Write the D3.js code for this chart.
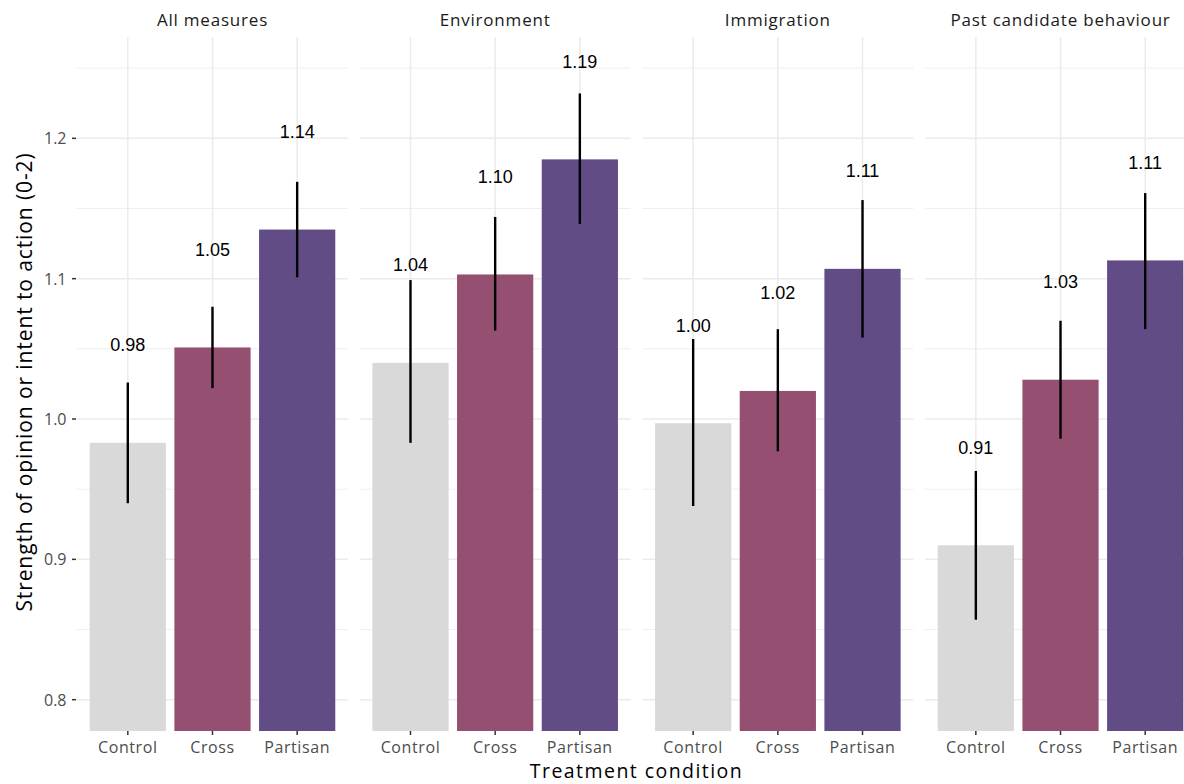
<!DOCTYPE html>
<html>
<head>
<meta charset="utf-8">
<script src="https://cdn.jsdelivr.net/npm/d3@7"></script>
<style>
  html, body { margin: 0; padding: 0; background: #fff; }
  svg { display: block; }
</style>
</head>
<body>
<svg id="chart" width="1184" height="784"></svg>
<script>
// ---- data ----
const facets = ["All measures", "Environment", "Immigration", "Past candidate behaviour"];
const conditions = ["Control", "Cross", "Partisan"];
const means = [
  [0.983, 1.051, 1.135],
  [1.040, 1.103, 1.185],
  [0.997, 1.020, 1.107],
  [0.910, 1.028, 1.113]
];
const lower = [
  [0.940, 1.022, 1.101],
  [0.983, 1.063, 1.139],
  [0.938, 0.977, 1.058],
  [0.857, 0.986, 1.064]
];
const upper = [
  [1.026, 1.080, 1.169],
  [1.099, 1.144, 1.232],
  [1.057, 1.064, 1.156],
  [0.963, 1.070, 1.161]
];
const labels = [
  ["0.98", "1.05", "1.14"],
  ["1.04", "1.10", "1.19"],
  ["1.00", "1.02", "1.11"],
  ["0.91", "1.03", "1.11"]
];
const yTicks = [0.8, 0.9, 1.0, 1.1, 1.2];
const yMinor = [0.85, 0.95, 1.05, 1.15, 1.25];
const colors = { Control: "#d9d9d9", Cross: "#944f71", Partisan: "#614c86" };

// ---- layout ----
const svg = d3.select("#chart");
const plotLeft = 77, plotRight = 1196, plotTop = 37, plotBottom = 731;
const gap = 11.7;
const panelW = (plotRight - plotLeft - gap * 3) / 4;
const sansUI = "'Open Sans', 'Noto Sans', sans-serif";

const y = d3.scaleLinear().domain([0.7777, 1.2722]).range([plotBottom, plotTop]);
const x = d3.scaleBand().domain(conditions).range([0, panelW]).paddingInner(0.1).paddingOuter(0.15);
const cx = d => x(d) + x.bandwidth() / 2;

facets.forEach((f, i) => {
  const x0 = plotLeft + i * (panelW + gap);
  const g = svg.append("g").attr("transform", `translate(${x0},0)`);

  g.selectAll("line.minor").data(yMinor).join("line").attr("class", "minor")
    .attr("x1", 0).attr("x2", panelW)
    .attr("y1", d => y(d)).attr("y2", d => y(d))
    .attr("stroke", "#ebebeb").attr("stroke-width", 0.8);
  g.selectAll("line.major").data(yTicks).join("line").attr("class", "major")
    .attr("x1", 0).attr("x2", panelW)
    .attr("y1", d => y(d)).attr("y2", d => y(d))
    .attr("stroke", "#ebebeb").attr("stroke-width", 1.5);
  g.selectAll("line.vmajor").data(conditions).join("line").attr("class", "vmajor")
    .attr("x1", cx).attr("x2", cx)
    .attr("y1", plotTop).attr("y2", plotBottom)
    .attr("stroke", "#ebebeb").attr("stroke-width", 1.5);

  g.selectAll("rect.bar").data(conditions).join("rect").attr("class", "bar")
    .attr("x", d => x(d)).attr("width", x.bandwidth())
    .attr("y", (d, j) => y(means[i][j]))
    .attr("height", (d, j) => plotBottom - y(means[i][j]))
    .attr("fill", d => colors[d]);

  g.selectAll("line.err").data(conditions).join("line").attr("class", "err")
    .attr("x1", cx).attr("x2", cx)
    .attr("y1", (d, j) => y(lower[i][j])).attr("y2", (d, j) => y(upper[i][j]))
    .attr("stroke", "#000").attr("stroke-width", 2.4);

  g.selectAll("text.val").data(conditions).join("text").attr("class", "val")
    .attr("x", cx)
    .attr("y", (d, j) => y(means[i][j] + 0.0695))
    .attr("text-anchor", "middle").attr("dominant-baseline", "central")
    .attr("font-family", "'Liberation Sans', Arial, sans-serif")
    .attr("font-size", 18).attr("fill", "#000")
    .text((d, j) => labels[i][j]);

  g.selectAll("line.xt").data(conditions).join("line").attr("class", "xt")
    .attr("x1", cx).attr("x2", cx)
    .attr("y1", plotBottom).attr("y2", plotBottom + 4)
    .attr("stroke", "#333").attr("stroke-width", 1.5);
  g.selectAll("text.xl").data(conditions).join("text").attr("class", "xl")
    .attr("x", cx).attr("y", 747)
    .attr("text-anchor", "middle").attr("dominant-baseline", "central")
    .attr("font-family", sansUI).attr("font-size", 16).attr("letter-spacing", 0.6)
    .attr("fill", "#4d4d4d")
    .text(d => d);

  g.append("text")
    .attr("x", panelW / 2).attr("y", 19)
    .attr("text-anchor", "middle").attr("dominant-baseline", "central")
    .attr("font-family", sansUI).attr("font-size", 17).attr("letter-spacing", 0.8)
    .attr("fill", "#1a1a1a")
    .text(f);
});

const ya = svg.append("g");
ya.selectAll("line").data(yTicks).join("line")
  .attr("x1", plotLeft - 5).attr("x2", plotLeft - 1)
  .attr("y1", d => y(d)).attr("y2", d => y(d))
  .attr("stroke", "#333").attr("stroke-width", 1.5);
ya.selectAll("text").data(yTicks).join("text")
  .attr("x", plotLeft - 10.5).attr("y", d => y(d))
  .attr("text-anchor", "end").attr("dominant-baseline", "central")
  .attr("font-family", sansUI).attr("font-size", 16).attr("fill", "#4d4d4d")
  .text(d => d3.format(".1f")(d));

svg.append("text")
  .attr("transform", `translate(24,382) rotate(-90)`)
  .attr("text-anchor", "middle").attr("dominant-baseline", "central")
  .attr("font-family", sansUI).attr("font-size", 21).attr("letter-spacing", 0.9)
  .attr("fill", "#000")
  .text("Strength of opinion or intent to action (0-2)");
svg.append("text")
  .attr("x", (plotLeft + plotRight) / 2).attr("y", 770.6)
  .attr("text-anchor", "middle").attr("dominant-baseline", "central")
  .attr("font-family", sansUI).attr("font-size", 19.5).attr("letter-spacing", 1.45)
  .attr("fill", "#000")
  .text("Treatment condition");
</script>
</body>
</html>
